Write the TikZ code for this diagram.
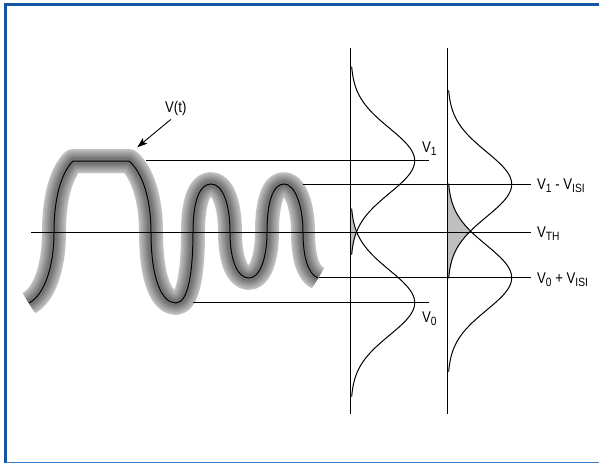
\documentclass[tikz,border=0pt]{standalone}
\usepackage{fontspec}
\setmainfont{Liberation Sans}[FakeStretch=0.85]
\usepackage{xcolor}
\definecolor{fblue}{RGB}{20,85,165}
\definecolor{lblue}{RGB}{60,125,200}
\usetikzlibrary{arrows.meta,positioning}

\newcommand{\lsub}[1]{\raisebox{-0.22em}{\fontsize{12}{12}\selectfont #1}}
% gaussian lying on a vertical axis: axis x, centre y, from y, to y
\newcommand{\gausscurve}[4]{plot[domain=#3:#4,samples=70,smooth] ({#1+64*exp(((\x-#2)*(\x-#2))/(-2112))},{\x})}
% overlap of two gaussians: axis x, centre 1, centre 2, from y, to y
\newcommand{\overlapfill}[5]{(#1,#4) -- plot[domain=#4:#5,samples=40,smooth] ({#1+64*min(exp(((\x-#2)*(\x-#2))/(-2112)),exp(((\x-#3)*(\x-#3))/(-2112)))},{\x}) -- (#1,#5) -- cycle}
\newcommand{\wavepath}{(29,303) .. controls (44,295) and (54,268) .. (54,232)
  .. controls (54,196) and (62,172) .. (73,161) -- (129,161)
  .. controls (142,172) and (151,198) .. (151,232)
  .. controls (151,280) and (162,303) .. (176,303)
  .. controls (189,303) and (193,268) .. (193,232)
  .. controls (193,200) and (200,184) .. (211,184)
  .. controls (223,184) and (230,205) .. (230,232)
  .. controls (230,262) and (238,278) .. (249,278)
  .. controls (260,278) and (267,258) .. (267,232)
  .. controls (267,202) and (273,184) .. (284,184)
  .. controls (295,184) and (303,206) .. (303,232)
  .. controls (303,257) and (308,274) .. (318,278)}

\begin{document}
\begin{tikzpicture}[x=1pt,y=-1pt,
  level/.style={line width=1pt},
  lbl/.style={inner sep=0pt,anchor=base west,font=\fontsize{15.5}{15.5}\selectfont},
  ovl/.style={fill=black!25}
]
  \useasboundingbox (0,0) rectangle (599,463);

  % Frame
  \draw[fblue,line width=3pt] (5.5,463) -- (5.5,4.5) -- (599,4.5);
  \draw[lblue,line width=1pt] (5.5,462.5) -- (599,462.5);

  % Shaded waveform
  \foreach \i in {0,...,9}
    \draw[line width=24pt-2pt*\i,black!\fpeval{24+3.4*\i},line join=round] \wavepath;
  \draw[level] \wavepath;

  % Level coordinates
  \coordinate (v1a) at (146,160.7);   \coordinate (v1b) at (428.7,160.7);
  \coordinate (v0a) at (193,302.7);   \coordinate (v0b) at (428.7,302.7);
  \coordinate (i1a) at (302.7,184.3); \coordinate (i1b) at (530.7,184.3);
  \coordinate (tha) at (31,232);      \coordinate (thb) at (530.7,232);
  \coordinate (i0a) at (319,277.7);   \coordinate (i0b) at (530.7,277.7);
  \coordinate (ax1t) at (350.7,47.7); \coordinate (ax1b) at (350.7,414);
  \coordinate (ax2t) at (447.7,47.7); \coordinate (ax2b) at (447.7,414);
  \coordinate (vtip) at (137.3,147.3);

  % Labels
  \node[lbl] (lv1) at (422,152) {V\lsub{1}};
  \node[lbl] (lv0) at (422,322) {V\lsub{0}};
  \node[lbl] (li1) at (537,189.5) {V\lsub{1} - V\lsub{ISI}};
  \node[lbl] (lth) at (537,237.4) {V\lsub{TH}};
  \node[lbl] (li0) at (537,283) {V\lsub{0} + V\lsub{ISI}};
  \node[lbl] (lvt) at (165,112) {V(t)};

  % Overlap areas
  \fill[ovl] \overlapfill{350.7}{160.7}{302.7}{208.7}{254.7};
  \fill[ovl] \overlapfill{447.7}{184.3}{277.7}{184.3}{277.7};

  % Levels and axes
  \draw[level] (v1a) -- (v1b);
  \draw[level] (v0a) -- (v0b);
  \draw[level] (i1a) -- (i1b);
  \draw[level] (tha) -- (thb);
  \draw[level] (i0a) -- (i0b);
  \draw[level] (ax1t) -- (ax1b);
  \draw[level] (ax2t) -- (ax2b);

  % Distributions
  \draw[level] \gausscurve{350.7}{160.7}{66.7}{254.7};
  \draw[level] \gausscurve{350.7}{302.7}{208.7}{396.7};
  \draw[level] \gausscurve{447.7}{184.3}{90.3}{278.3};
  \draw[level] \gausscurve{447.7}{277.7}{183.7}{371.7};

  % Pointer
  \draw[line width=0.9pt,-{Stealth[length=10pt,width=7pt,inset=2pt]}] ([shift={(-5,4)}]lvt.south) -- (vtip);
\end{tikzpicture}
\end{document}
